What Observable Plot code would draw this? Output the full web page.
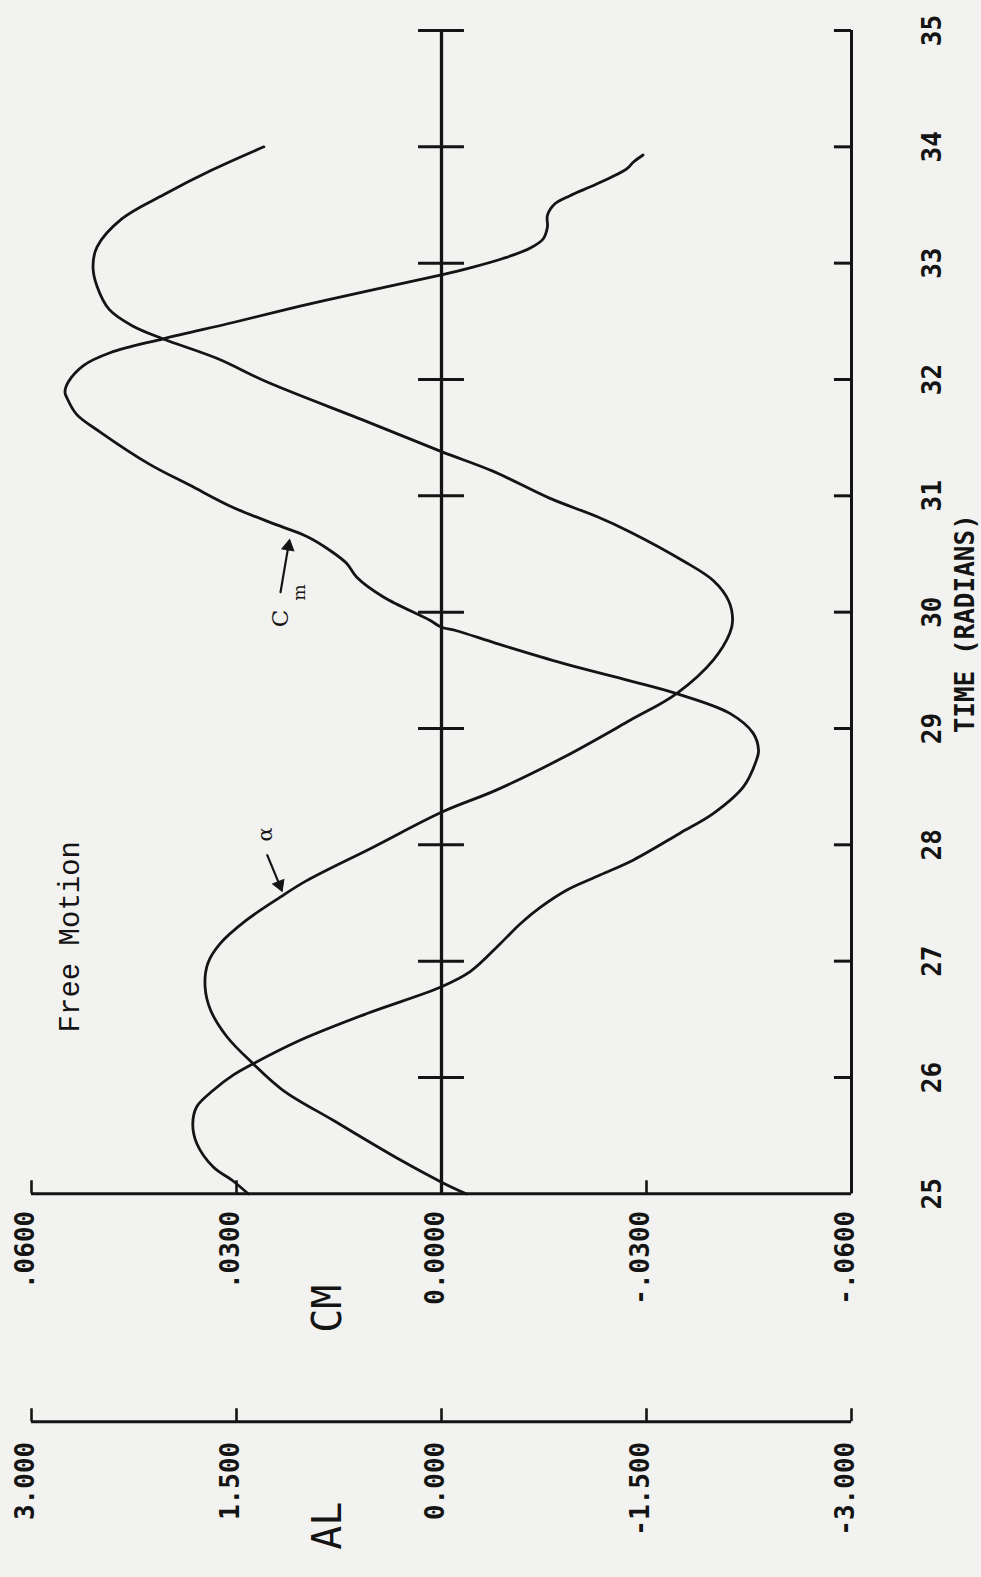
<!DOCTYPE html>
<html>
<head>
<meta charset="utf-8">
<script src="https://cdn.jsdelivr.net/npm/d3@7"></script>
<script src="https://cdn.jsdelivr.net/npm/@observablehq/plot@0.6"></script>
<style>
  html, body { margin: 0; padding: 0; background: #f2f2f0; overflow: hidden; }
  #chart svg { display: block; }
</style>
</head>
<body>
<div id="chart"></div>
<script>
// ---- Data (time in radians) ----
// alpha (AL axis units)
const alphaT  = [25.00,25.10,25.29,25.63,25.89,26.12,26.35,26.58,26.78,26.98,27.15,27.35,27.55,27.69,27.98,28.28,28.47,28.75,29.07,29.30,29.59,29.82,29.93,30.10,30.27,30.44,30.69,30.82,30.98,31.21,31.38,31.64,31.98,32.18,32.35,32.46,32.60,32.80,32.97,33.14,33.38,33.59,33.80,34.00];
const alphaAL = [-0.18,0.00,0.30,0.79,1.16,1.38,1.57,1.69,1.73,1.71,1.62,1.43,1.18,0.99,0.50,0.00,-0.40,-0.89,-1.38,-1.72,-1.99,-2.11,-2.13,-2.10,-1.99,-1.77,-1.38,-1.14,-0.79,-0.38,0.00,0.55,1.28,1.64,2.04,2.26,2.43,2.52,2.55,2.52,2.34,2.03,1.68,1.30];
// Cm (CM axis units)
const cmT   = [25.00,25.11,25.23,25.43,25.60,25.75,25.89,26.02,26.12,26.32,26.55,26.78,26.91,27.15,27.32,27.46,27.61,27.74,27.87,28.10,28.27,28.50,28.73,28.81,28.96,29.13,29.30,29.41,29.56,29.73,29.84,29.87,29.93,30.13,30.30,30.42,30.53,30.65,30.75,30.90,31.09,31.27,31.55,31.70,31.84,31.89,31.98,32.12,32.23,32.35,32.49,32.63,32.76,32.90,32.96,33.04,33.13,33.21,33.31,33.41,33.51,33.58,33.68,33.81,33.87,33.93];
const cmVal = [0.0283,0.0305,0.0334,0.0358,0.0364,0.0358,0.0334,0.0305,0.0275,0.0207,0.0109,0.0000,-0.0042,-0.0086,-0.0115,-0.0144,-0.0183,-0.0232,-0.0281,-0.0349,-0.0398,-0.0442,-0.0461,-0.0464,-0.0456,-0.0422,-0.0344,-0.0276,-0.0178,-0.0081,-0.0022,0.0000,0.0017,0.0085,0.0124,0.0139,0.0163,0.0197,0.0241,0.0305,0.0368,0.0427,0.0500,0.0534,0.0548,0.0551,0.0546,0.0524,0.0485,0.0407,0.0305,0.0207,0.0109,0.0000,-0.0042,-0.0090,-0.0130,-0.0149,-0.0155,-0.0155,-0.0166,-0.0188,-0.0227,-0.0271,-0.0281,-0.0295];

// ticks and tick labels
const timeTicks      = [25,26,27,28,29,30,31,32,33,34,35];
const timeTickLabels = ["25","26","27","28","29","30","31","32","33","34","35"];
const alTicks        = [3, 1.5, 0, -1.5, -3];
const alTickLabels   = ["3.000","1.500","0.000","-1.500","-3.000"];
const cmTicks        = [0.06, 0.03, 0, -0.03, -0.06];
const cmTickLabels   = [".0600",".0300","0.0000","-.0300","-.0600"];

// ---- Build ----
const CM_TO_AL = 3 / 0.06;   // the two value axes share one pixel range
const alpha = alphaT.map((t, i) => ({t, v: alphaAL[i]}));
const cm = cmT.map((t, i) => ({t, v: cmVal[i]}));
const inner = timeTicks.filter(t => t > 25);
const ink = "#141414";
const mono = "DejaVu Sans Mono";
const AL_AXIS_DY = 228;

const chart = Plot.plot({
  width: 981,
  height: 1577,
  marginLeft: 31,
  marginRight: 130,
  marginTop: 30,
  marginBottom: 383.7,
  x: {domain: [3, -3], axis: null},
  y: {domain: [25, 35], axis: null},
  style: {background: "transparent", overflow: "visible"},
  marks: [
    // zero line with crossing ticks
    Plot.ruleX([0], {y1: 25, y2: 35, stroke: ink, strokeWidth: 3.3}),
    Plot.ruleY(inner, {y: d => d, x1: 0.168, x2: -0.168, stroke: ink, strokeWidth: 3}),
    // right frame with inward ticks
    Plot.ruleX([-3], {y1: 25, y2: 35, stroke: ink, strokeWidth: 3}),
    Plot.ruleY(inner, {y: d => d, x1: -3, x2: -2.875, stroke: ink, strokeWidth: 3}),
    // CM axis
    Plot.ruleY([25], {x1: 3, x2: -3, stroke: ink, strokeWidth: 3}),
    Plot.ruleX(cmTicks, {x: d => d * CM_TO_AL, y1: 25, y2: 25.112, stroke: ink, strokeWidth: 2.6}),
    // AL axis (below)
    Plot.ruleY([25], {x1: 3, x2: -3, dy: AL_AXIS_DY, stroke: ink, strokeWidth: 3}),
    Plot.ruleX(alTicks, {x: d => d, y1: 25, y2: 25.112, dy: AL_AXIS_DY, stroke: ink, strokeWidth: 2.6}),

    // curves
    Plot.line(cm, {x: d => d.v * CM_TO_AL, y: "t", curve: "catmull-rom", stroke: ink, strokeWidth: 2.8}),
    Plot.line(alpha, {x: "v", y: "t", curve: "catmull-rom", stroke: ink, strokeWidth: 2.8}),

    // tick labels
    Plot.text(cmTicks, {x: d => d * CM_TO_AL, y: 25, dy: 17, dx: 2, text: (d, i) => cmTickLabels[i],
      rotate: -90, textAnchor: "end", lineAnchor: "bottom", fontFamily: mono, fontWeight: "bold",
      fontSize: 26, fill: ink}),
    Plot.text(alTicks, {x: d => d, y: 25, dy: AL_AXIS_DY + 20, dx: 2, text: (d, i) => alTickLabels[i],
      rotate: -90, textAnchor: "end", lineAnchor: "bottom", fontFamily: mono, fontWeight: "bold",
      fontSize: 26, fill: ink}),
    Plot.text(timeTicks, {x: -3, y: d => d, dx: 89, text: (d, i) => timeTickLabels[i],
      rotate: -90, textAnchor: "middle", lineAnchor: "bottom", fontFamily: mono, fontWeight: "bold",
      fontSize: 26, fill: ink}),
    Plot.text(["TIME (RADIANS)"], {x: -3, y: 29.9, dx: 122, text: d => d,
      rotate: -90, textAnchor: "middle", lineAnchor: "bottom", fontFamily: mono, fontWeight: "bold",
      fontSize: 26, fill: ink}),

    // axis names
    Plot.text(["CM"], {x: 0.739, y: 25, dy: 139, text: d => d, rotate: -90, textAnchor: "start",
      lineAnchor: "bottom", fontFamily: mono, fontSize: 40, fill: ink}),
    Plot.text(["AL"], {x: 0.739, y: 25, dy: 356, text: d => d, rotate: -90, textAnchor: "start",
      lineAnchor: "bottom", fontFamily: mono, fontSize: 40, fill: ink}),

    // annotations
    Plot.text(["Free Motion"], {x: 2.656, y: 27.21, text: d => d, rotate: -90, textAnchor: "middle",
      lineAnchor: "bottom", fontFamily: "Liberation Mono", fontSize: 29, fill: ink}),
    Plot.text(["\u03B1"], {x: 1.237, y: 28.09, text: d => d, rotate: -90, textAnchor: "middle",
      lineAnchor: "bottom", fontFamily: "DejaVu Serif", fontSize: 21, fill: ink}),
    Plot.arrow([0], {x1: 1.275, y1: 27.911, x2: 1.19, y2: 27.67, stroke: ink, strokeWidth: 2.2, headLength: 0}),
    Plot.dot([0], {x: 1.185, y: 27.655, symbol: "triangle", r: 4.5, rotate: 158, fill: ink, stroke: ink, strokeWidth: 1}),
    Plot.text(["C"], {x: 1.12, y: 29.945, text: d => d, rotate: -90, textAnchor: "middle",
      lineAnchor: "bottom", fontFamily: "DejaVu Serif", fontSize: 23, fill: ink}),
    Plot.text(["m"], {x: 1.0, y: 30.17, text: d => d, rotate: -90, textAnchor: "middle",
      lineAnchor: "bottom", fontFamily: "DejaVu Serif", fontSize: 17, fill: ink}),
    Plot.arrow([0], {x1: 1.178, y1: 30.171, x2: 1.123, y2: 30.55, stroke: ink, strokeWidth: 2.2, headLength: 0}),
    Plot.dot([0], {x: 1.12, y: 30.565, symbol: "triangle", r: 4.5, rotate: 10, fill: ink, stroke: ink, strokeWidth: 1})
  ]
});

document.getElementById("chart").appendChild(chart);
</script>
</body>
</html>
